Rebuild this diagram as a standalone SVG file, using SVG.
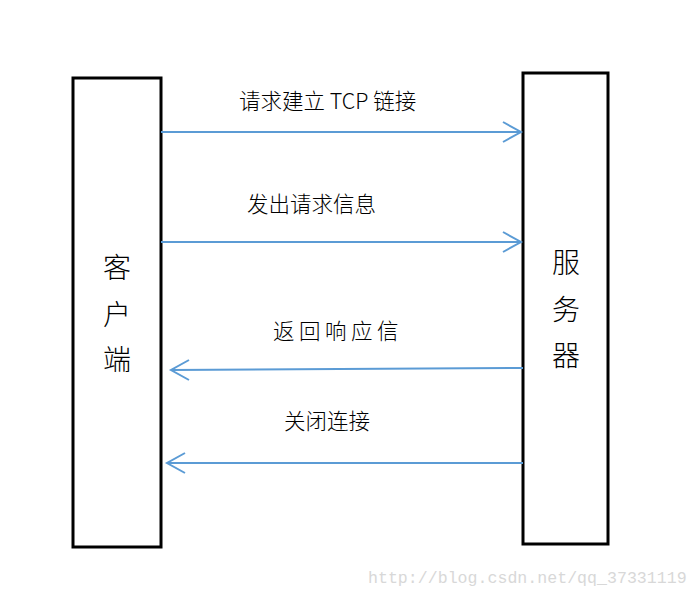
<svg xmlns="http://www.w3.org/2000/svg" width="699" height="597" viewBox="0 0 699 597">
<style>
.box{fill:#fff;stroke:#000;stroke-width:3}
.big{font-family:"Noto Sans CJK SC","Liberation Sans",sans-serif;font-size:28px;font-weight:300;fill:#000;text-anchor:middle}
.lbl{font-family:"Noto Sans CJK SC","Liberation Sans",sans-serif;font-size:21.5px;font-weight:300;fill:#000}
.ln{stroke:#5b9bd5;stroke-width:2;fill:none}
</style>
<rect width="699" height="597" fill="#fff"/>
<g id="client">
<rect class="box" x="73" y="78" width="88" height="469"/>
<text class="big" x="117" y="278">客</text>
<text class="big" x="117" y="325">户</text>
<text class="big" x="117" y="370">端</text>
</g>
<g id="server">
<rect class="box" x="523" y="73" width="85" height="471"/>
<text class="big" x="566" y="273">服</text>
<text class="big" x="566" y="320">务</text>
<text class="big" x="566" y="366">器</text>
</g>
<g id="connectors">
<path class="ln" d="M161 132H521M503 122L521 132L503 142"/>
<path class="ln" d="M161 242H521M503 232L521 242L503 252"/>
<path class="ln" d="M523 368L171 370M189 360L171 370L189 380"/>
<path class="ln" d="M523 463H167M185 453L167 463L185 473"/>
<text class="lbl" x="239" y="109">请求建立 TCP 链接</text>
<text class="lbl" x="247" y="212">发出请求信息</text>
<text class="lbl" x="273" y="339" letter-spacing="4.5">返回响应信</text>
<text class="lbl" x="284" y="429">关闭连接</text>
</g>
<text x="368" y="583" font-family="Liberation Mono,monospace" font-size="16.6" fill="#d8d8d8">http://blog.csdn.net/qq_37331119</text>
</svg>
